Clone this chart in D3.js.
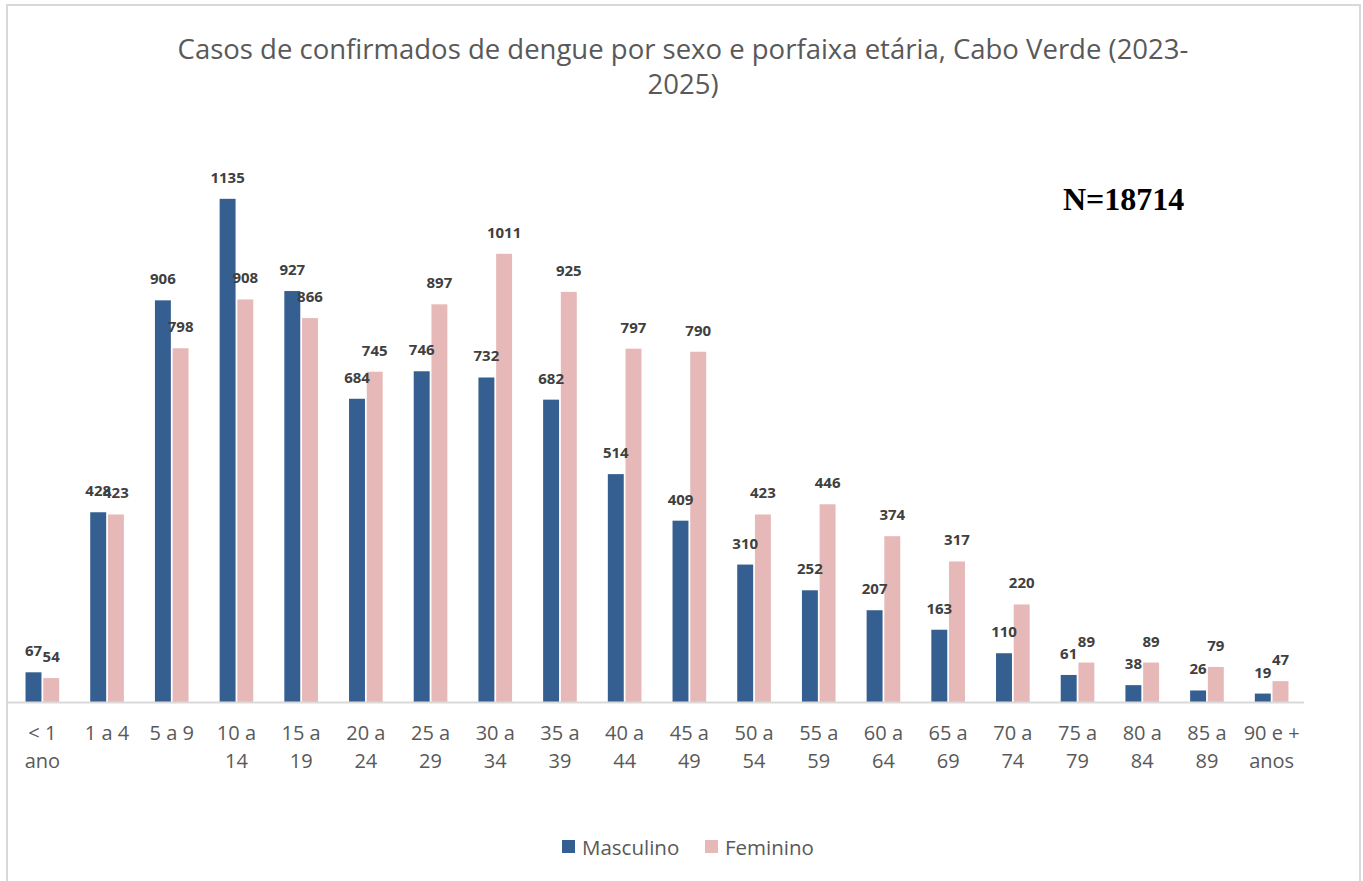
<!DOCTYPE html>
<html lang="pt">
<head>
  <meta charset="UTF-8">
  <title>Casos de dengue por sexo e faixa etária</title>
  <script src="https://d3js.org/d3.v7.min.js"></script>
  <style>
    body { margin: 0; background: #fff; }
    .title { font-family: "Open Sans", sans-serif; font-size: 27.5px; fill: #595959; text-anchor: middle; }
    .tick-label { font-family: "Open Sans", sans-serif; font-size: 20px; fill: #595959; text-anchor: middle; }
    .label { font-family: "Open Sans", sans-serif; font-size: 15px; font-weight: bold; fill: #404040; text-anchor: middle; }
    .legend { font-family: "Open Sans", sans-serif; font-size: 20.5px; fill: #595959; }
    .ntotal { font-family: "Liberation Serif", "Times New Roman", serif; font-size: 32px; font-weight: bold; fill: #000; }
  </style>
</head>
<body>
  <div id="chart"></div>
  <script>
    // age groups (\n marks the wrapped second line)
    const categories = ["< 1\nano", "1 a 4", "5 a 9", "10 a\n14", "15 a\n19", "20 a\n24", "25 a\n29",
      "30 a\n34", "35 a\n39", "40 a\n44", "45 a\n49", "50 a\n54", "55 a\n59", "60  a\n64",
      "65 a\n69", "70 a\n74", "75 a\n79", "80 a\n84", "85 a\n89", "90 e +\nanos"];
    const masculino = [67, 428, 906, 1135, 927, 684, 746, 732, 682, 514, 409, 310, 252, 207, 163, 110, 61, 38, 26, 19];
    const feminino  = [54, 423, 798, 908, 866, 745, 897, 1011, 925, 797, 790, 423, 446, 374, 317, 220, 89, 89, 79, 47];
    const seriesNames = ["Masculino", "Feminino"];
    const colors = ["#365F91", "#E6B9B8"];
    const titleLines = ["Casos de confirmados de dengue por sexo e porfaixa etária, Cabo Verde (2023-", "2025)"];

    const W = 1363, H = 881;
    const svg = d3.select("#chart").append("svg")
      .attr("width", W).attr("height", H);

    // chart border
    svg.append("rect")
      .attr("x", 7).attr("y", 5)
      .attr("width", 1353).attr("height", 890)
      .attr("fill", "#fff").attr("stroke", "#d9d9d9").attr("stroke-width", 2);

    // title
    svg.append("text").attr("class", "title")
      .selectAll("tspan").data(titleLines).enter().append("tspan")
      .attr("x", 683).attr("y", (d, i) => 59 + i * 35)
      .text(d => d);

    const x = d3.scaleBand()
      .domain(d3.range(categories.length))
      .range([10, 1304])
      .paddingInner(0.48)
      .paddingOuter(0.24);

    const x1 = d3.scaleBand()
      .domain([0, 1])
      .range([0, x.bandwidth()])
      .paddingInner(0.1);

    const y = d3.scaleLinear()
      .domain([0, 1200])
      .range([702, 170]);

    const data = categories.map((c, i) => ({ i, values: [masculino[i], feminino[i]] }));

    const groups = svg.selectAll(".group")
      .data(data).enter().append("g")
      .attr("transform", d => `translate(${x(d.i)},0)`);

    groups.selectAll("rect")
      .data(d => d.values.map((v, s) => ({ v, s })))
      .enter().append("rect")
      .attr("x", d => x1(d.s))
      .attr("y", d => y(d.v))
      .attr("width", x1.bandwidth())
      .attr("height", d => y(0) - y(d.v))
      .attr("fill", d => colors[d.s]);

    groups.selectAll(".label")
      .data(d => d.values.map((v, s) => ({ v, s })))
      .enter().append("text")
      .attr("class", "label")
      .attr("x", d => x1(d.s) + x1.bandwidth() / 2)
      .attr("y", d => y(d.v) - 16)
      .text(d => d.v);

    // x axis line
    svg.append("line")
      .attr("x1", 8).attr("x2", 1304)
      .attr("y1", y(0) + 0.5).attr("y2", y(0) + 0.5)
      .attr("stroke", "#d9d9d9").attr("stroke-width", 2);

    // category labels
    const xc = d3.scaleBand().domain(d3.range(categories.length)).range([10, 1304]);
    svg.selectAll(".tick-label")
      .data(categories).enter().append("text")
      .attr("class", "tick-label")
      .each(function(c, i) {
        d3.select(this).selectAll("tspan")
          .data(c.split("\n")).enter().append("tspan")
          .attr("x", xc(i) + xc.bandwidth() / 2)
          .attr("y", (d, j) => 740 + j * 28)
          .text(d => d);
      });

    // N total
    svg.append("text").attr("class", "ntotal")
      .attr("x", 1063).attr("y", 210)
      .text("N=18714");

    // legend
    const legend = svg.append("g").attr("transform", "translate(562,838)");
    const lx = [0, 143];
    seriesNames.forEach((n, i) => {
      legend.append("rect").attr("x", lx[i]).attr("y", 2)
        .attr("width", 13).attr("height", 13).attr("fill", colors[i]);
      legend.append("text").attr("class", "legend")
        .attr("x", lx[i] + 20).attr("y", 17).text(n);
    });
  </script>
</body>
</html>
